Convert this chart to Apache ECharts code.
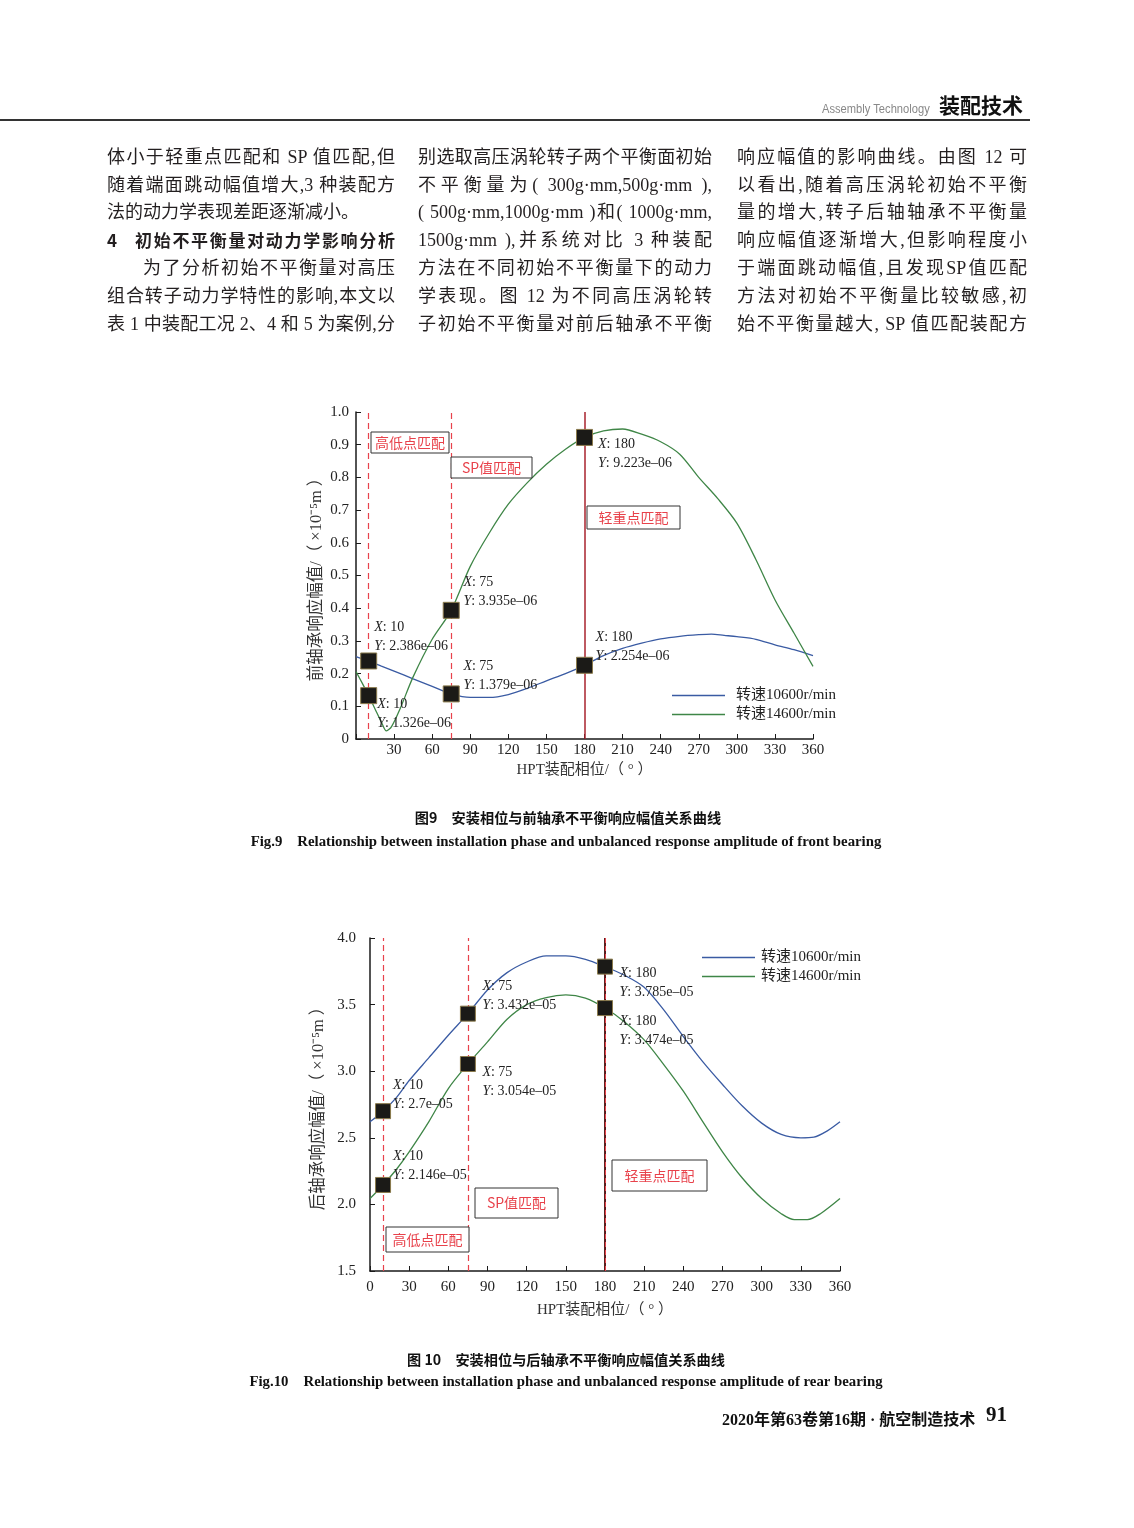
<!DOCTYPE html>
<html><head><meta charset="utf-8">
<script src="https://cdn.jsdelivr.net/npm/echarts@6/dist/echarts.min.js"></script>
<style>
body{margin:0;background:#fff}
#page{position:relative;width:1134px;height:1528px;background:#fff;overflow:hidden}
#chart{position:absolute;left:0;top:0;width:1134px;height:1528px}
.ln{position:absolute;height:28px;line-height:28px;font-size:18px;color:#231f20;font-family:"Liberation Serif","Noto Sans CJK SC",serif;text-align:justify;text-align-last:justify;white-space:nowrap}
.hd{font-family:"Noto Sans CJK SC",sans-serif;font-weight:bold;font-size:17px}
</style></head>
<body>
<div id="page">
<div id="chart"></div>
<div style="position:absolute;left:822px;top:102px;font:12px 'Liberation Sans',sans-serif;color:#888;transform:scaleX(0.93);transform-origin:left top;white-space:nowrap">Assembly Technology</div>
<div style="position:absolute;left:939px;top:89px;font:bold 21px 'Noto Sans CJK SC',sans-serif;color:#111">装配技术</div>
<div style="position:absolute;left:0;top:119px;width:1030px;height:1.5px;background:#333"></div>

<div class="ln" style="left:107px;top:143px;width:288px">体小于轻重点匹配和 SP 值匹配,但</div>
<div class="ln" style="left:107px;top:171px;width:288px">随着端面跳动幅值增大,3 种装配方</div>
<div class="ln" style="left:107px;top:198px;width:252px;text-align-last:left">法的动力学表现差距逐渐减小。</div>
<div class="ln hd" style="left:107px;top:226px;width:20px;text-align-last:left">4</div>
<div class="ln hd" style="left:135px;top:226px;width:260px">初始不平衡量对动力学影响分析</div>
<div class="ln" style="left:143px;top:254px;width:252px">为了分析初始不平衡量对高压</div>
<div class="ln" style="left:107px;top:282px;width:288px">组合转子动力学特性的影响,本文以</div>
<div class="ln" style="left:107px;top:310px;width:288px">表 1 中装配工况 2、4 和 5 为案例,分</div>

<div class="ln" style="left:418px;top:143px;width:294px">别选取高压涡轮转子两个平衡面初始</div>
<div class="ln" style="left:418px;top:171px;width:294px">不平衡量为( 300g·mm,500g·mm ),</div>
<div class="ln" style="left:418px;top:198px;width:294px">( 500g·mm,1000g·mm )和( 1000g·mm,</div>
<div class="ln" style="left:418px;top:226px;width:294px">1500g·mm ),并系统对比 3 种装配</div>
<div class="ln" style="left:418px;top:254px;width:294px">方法在不同初始不平衡量下的动力</div>
<div class="ln" style="left:418px;top:282px;width:294px">学表现。图 12 为不同高压涡轮转</div>
<div class="ln" style="left:418px;top:310px;width:294px">子初始不平衡量对前后轴承不平衡</div>

<div class="ln" style="left:737px;top:143px;width:290px">响应幅值的影响曲线。由图 12 可</div>
<div class="ln" style="left:737px;top:171px;width:290px">以看出,随着高压涡轮初始不平衡</div>
<div class="ln" style="left:737px;top:198px;width:290px">量的增大,转子后轴轴承不平衡量</div>
<div class="ln" style="left:737px;top:226px;width:290px">响应幅值逐渐增大,但影响程度小</div>
<div class="ln" style="left:737px;top:254px;width:290px">于端面跳动幅值,且发现SP值匹配</div>
<div class="ln" style="left:737px;top:282px;width:290px">方法对初始不平衡量比较敏感,初</div>
<div class="ln" style="left:737px;top:310px;width:290px">始不平衡量越大, SP 值匹配装配方</div>

<div style="position:absolute;left:722px;top:1406px;font:bold 16px 'Liberation Serif','Noto Sans CJK SC',serif;color:#111;white-space:nowrap">2020年第63卷第16期 · 航空制造技术</div>
<div style="position:absolute;left:986px;top:1402px;font:bold 21px 'Liberation Serif',serif;color:#111">91</div>
</div>
<script>
// ---------------- data ----------------
const front10600Phase = [0,10,20,30,45,60,75,90,105,120,135,150,165,180,195,210,225,240,255,270,280,290,300,315,330,345,360];
const front10600Amp   = [0.252,0.2386,0.223,0.2076,0.184,0.161,0.1379,0.127,0.127,0.136,0.155,0.178,0.200,0.2254,0.255,0.277,0.293,0.306,0.314,0.319,0.321,0.317,0.313,0.305,0.288,0.273,0.255];
const front14600Phase = [0,5,10,15,20,24,28,35,45,60,75,90,105,120,135,150,165,180,195,210,225,240,255,270,285,300,315,330,345,360];
const front14600Amp   = [0.206,0.17,0.1326,0.092,0.052,0.025,0.038,0.095,0.19,0.305,0.3935,0.528,0.63,0.718,0.784,0.84,0.886,0.9223,0.942,0.948,0.932,0.909,0.871,0.80,0.735,0.66,0.549,0.426,0.324,0.222];

const rear10600Phase = [0,10,20,30,45,60,75,90,105,120,135,150,165,180,195,210,225,240,255,270,285,300,315,330,340,350,360];
const rear10600Amp   = [2.62,2.70,2.80,2.93,3.10,3.27,3.432,3.61,3.74,3.82,3.866,3.866,3.84,3.785,3.72,3.63,3.46,3.26,3.07,2.90,2.74,2.61,2.525,2.50,2.505,2.55,2.62];
const rear14600Phase = [0,10,20,30,45,60,75,90,105,120,135,150,165,180,195,210,225,240,255,270,285,300,315,325,335,345,360];
const rear14600Amp   = [2.044,2.146,2.26,2.395,2.62,2.87,3.054,3.22,3.39,3.50,3.553,3.573,3.548,3.474,3.37,3.235,3.05,2.85,2.62,2.395,2.20,2.044,1.93,1.885,1.885,1.93,2.044];

const markPhase       = [10, 75, 180];
const front10600Mark  = [0.2386, 0.1379, 0.2254];
const front14600Mark  = [0.1326, 0.3935, 0.9223];
const rear10600Mark   = [2.70, 3.432, 3.785];
const rear14600Mark   = [2.146, 3.054, 3.474];

const seriesNames = ['转速10600r/min', '转速14600r/min'];
const methodNames = ['高低点匹配', 'SP值匹配', '轻重点匹配'];
const xTicks = {min: 0, max: 360, interval: 30};
const frontYTicks = {min: 0, max: 1, interval: 0.1};
const rearYTicks = {min: 1.5, max: 4, interval: 0.5};

// ---------------- styling ----------------
const SERIF = '"Liberation Serif","Noto Sans CJK SC",serif';
const BLUE = '#3a5ba3', GREEN = '#3f8647', RED = '#e8424b', DARKRED = '#a8232e';
const TXT = '#222';

function zip(xs, ys){ return xs.map((x,i)=>[x, ys[i]]); }
function fmtSci(v){
  const a = v * 1e-5;
  const e = Math.floor(Math.log10(a) + 1e-9);
  const m = parseFloat((a / Math.pow(10, e)).toPrecision(4));
  return String(m) + 'e–' + String(-e).padStart(2, '0');
}
const rich = {
  i: {fontFamily: SERIF, fontStyle: 'italic', fontSize: 14, color: TXT, lineHeight: 19},
  n: {fontFamily: SERIF, fontSize: 14, color: TXT, lineHeight: 19}
};
function markerSeries(g, ys, offsets, size){
  return {
    type: 'scatter', xAxisIndex: g, yAxisIndex: g, symbol: 'rect', symbolSize: size, z: 6, silent: true,
    itemStyle: {color: '#1b1a17', borderColor: '#8b7b4d', borderWidth: 1, opacity: 1},
    data: markPhase.map((x,i)=>({value: [x, ys[i]],
      label: {position: [offsets[i][0] + size/2, offsets[i][1] - 9.5 + size/2]}})),
    label: {show: true, align: 'left', verticalAlign: 'top', rich,
      formatter: p => `{i|X}{n|: ${p.value[0]}}\n{i|Y}{n|: ${fmtSci(p.value[1])}}`}
  };
}
function lineSeries(name, g, xs, ys, color, markLine){
  const s = {type: 'line', name, xAxisIndex: g, yAxisIndex: g, data: zip(xs, ys), smooth: 0.3,
    showSymbol: false, symbol: 'none', silent: true, z: 3,
    lineStyle: {color, width: 1.3}, itemStyle: {color}};
  if (markLine) s.markLine = markLine;
  return s;
}
const dashed = {color: RED, type: [6, 4], width: 1.2};
const frontMarkLine = {silent: true, symbol: ['none','none'], label: {show: false}, animation: false,
  data: [{xAxis: markPhase[0], lineStyle: dashed}, {xAxis: markPhase[1], lineStyle: dashed},
         {xAxis: markPhase[2], lineStyle: {color: DARKRED, type: 'solid', width: 1.5}}]};
const rearMarkLine = {silent: true, symbol: ['none','none'], label: {show: false}, animation: false,
  data: [{xAxis: markPhase[0], lineStyle: dashed}, {xAxis: markPhase[1], lineStyle: dashed},
         {xAxis: markPhase[2], lineStyle: {color: '#5a1f1f', type: 'solid', width: 2}},
         {xAxis: markPhase[2], lineStyle: {color: RED, type: [5, 3], width: 1}}]};

function xAxis(g, hideZero, labelMargin, nameGap){
  return {gridIndex: g, type: 'value', min: xTicks.min, max: xTicks.max, interval: xTicks.interval,
    axisLine: {show: true, onZero: false, lineStyle: {color: '#1a1a1a', width: 1.5}},
    axisTick: {show: true, inside: true, length: 5, lineStyle: {color: '#1a1a1a'}},
    splitLine: {show: false},
    axisLabel: {fontFamily: SERIF, fontSize: 15, color: TXT, margin: labelMargin,
      formatter: v => (hideZero && v === 0) ? '' : String(v)},
    name: 'HPT装配相位/（ ° ）', nameLocation: 'middle', nameGap,
    nameTextStyle: {fontFamily: SERIF, fontSize: 15, color: '#333'}};
}
function yAxis(g, t, name, labelMargin, nameGap){
  return {gridIndex: g, type: 'value', min: t.min, max: t.max, interval: t.interval,
    axisLine: {show: true, onZero: false, lineStyle: {color: '#1a1a1a', width: 1.5}},
    axisTick: {show: true, inside: true, length: 5, lineStyle: {color: '#1a1a1a'}},
    splitLine: {show: false},
    axisLabel: {fontFamily: SERIF, fontSize: 15, color: TXT, margin: labelMargin,
      formatter: v => v === 0 ? '0' : v.toFixed(1)},
    name, nameLocation: 'middle', nameGap,
    nameTextStyle: {fontFamily: SERIF, fontSize: 16.5, color: '#333'}};
}
function box(x, y, w, h, text){
  return {type: 'group', children: [
    {type: 'rect', shape: {x, y, width: w, height: h}, style: {fill: '#fff', stroke: '#333', lineWidth: 1}, z: 10},
    {type: 'text', x: x + w/2, y: y + h/2, z: 11,
     style: {text, fill: RED, font: '14px "Noto Sans CJK SC",sans-serif', textAlign: 'center', textVerticalAlign: 'middle', align: 'center', verticalAlign: 'middle'}}
  ]};
}
function caption(x, y, text, font){
  return {type: 'text', x, y, z: 10,
    style: {text, fill: '#111', font, textAlign: 'center', textVerticalAlign: 'middle', align: 'center', verticalAlign: 'middle'}};
}
function legend(left, top, pad){
  return {left, top, orient: 'vertical', itemWidth: 53, itemHeight: 1.5, itemGap: 4, icon: 'rect',
    selectedMode: false, data: seriesNames,
    textStyle: {fontFamily: SERIF, fontSize: 15, color: TXT, padding: [0, 0, 0, pad]}};
}

const chart = echarts.init(document.getElementById('chart'), null, {renderer: 'canvas', width: 1134, height: 1528});
chart.setOption({
  animation: false,
  backgroundColor: 'transparent',
  grid: [
    {left: 356, top: 412, width: 457, height: 327, outerBoundsMode: 'none', containLabel: false},
    {left: 370, top: 938, width: 470, height: 333, outerBoundsMode: 'none', containLabel: false}
  ],
  xAxis: [xAxis(0, true, 4, 24), xAxis(1, false, 9, 32)],
  yAxis: [yAxis(0, frontYTicks, '前轴承响应幅值/（ ×10⁻⁵m ）', 7, 31),
          yAxis(1, rearYTicks, '后轴承响应幅值/（ ×10⁻⁵m ）', 14, 43)],
  legend: [legend(667, 683, 6), legend(697, 945, 1)],
  series: [
    lineSeries(seriesNames[0], 0, front10600Phase, front10600Amp, BLUE, frontMarkLine),
    lineSeries(seriesNames[1], 0, front14600Phase, front14600Amp, GREEN),
    markerSeries(0, front10600Mark, [[6,-33],[12.7,-27.3],[11.6,-27.4]], 16),
    markerSeries(0, front14600Mark, [[9,9.3],[12.7,-27.3],[14,7.6]], 16),
    lineSeries(seriesNames[0], 1, rear10600Phase, rear10600Amp, BLUE, rearMarkLine),
    lineSeries(seriesNames[1], 1, rear14600Phase, rear14600Amp, GREEN),
    markerSeries(1, rear10600Mark, [[10.4,-25.7],[15,-26.6],[15,7.3]], 15),
    markerSeries(1, rear14600Mark, [[10.4,-27.7],[15,8.4],[15,14]], 15)
  ],
  graphic: [
    box(371, 432, 78, 21, methodNames[0]),
    box(451, 457, 81, 21, methodNames[1]),
    box(587, 506, 93, 23, methodNames[2]),
    box(386, 1227, 83, 25, methodNames[0]),
    box(475, 1188, 83, 30, methodNames[1]),
    box(612, 1160, 95, 31, methodNames[2]),
    caption(568, 818, '图9　安装相位与前轴承不平衡响应幅值关系曲线', 'bold 14.2px "Noto Sans CJK SC",sans-serif'),
    caption(566, 842, 'Fig.9　Relationship between installation phase and unbalanced response amplitude of front bearing', 'bold 14.8px "Liberation Serif",serif'),
    caption(566, 1360, '图 10　安装相位与后轴承不平衡响应幅值关系曲线', 'bold 14.2px "Noto Sans CJK SC",sans-serif'),
    caption(566, 1382, 'Fig.10　Relationship between installation phase and unbalanced response amplitude of rear bearing', 'bold 14.8px "Liberation Serif",serif')
  ]
});
</script>
</body></html>
